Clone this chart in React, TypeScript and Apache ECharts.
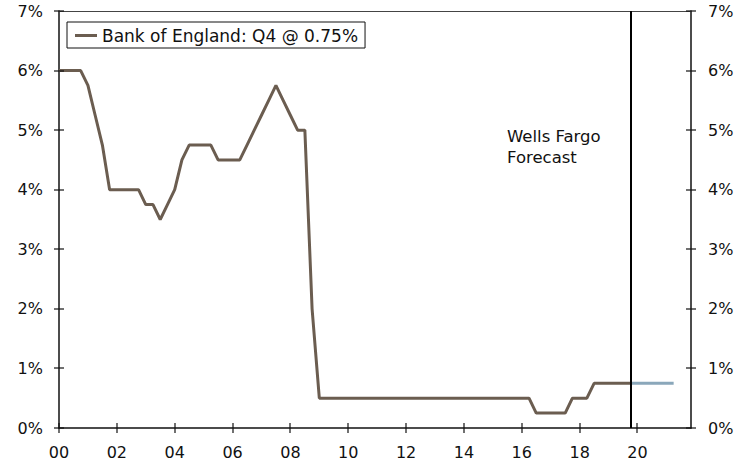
import React, { useEffect, useRef } from "react";
import * as echarts from "echarts";

// Bank Rate, quarter-end values, 2000 Q1 .. 2019 Q4 (index 0 = 2000 Q1)
const historicalRates: number[] = [
  6.0, 6.0, 6.0, 6.0, // 2000
  5.75, 5.25, 4.75, 4.0, // 2001
  4.0, 4.0, 4.0, 4.0, // 2002
  3.75, 3.75, 3.5, 3.75, // 2003
  4.0, 4.5, 4.75, 4.75, // 2004
  4.75, 4.75, 4.5, 4.5, // 2005
  4.5, 4.5, 4.75, 5.0, // 2006
  5.25, 5.5, 5.75, 5.5, // 2007
  5.25, 5.0, 5.0, 2.0, // 2008
  0.5, 0.5, 0.5, 0.5, // 2009
  0.5, 0.5, 0.5, 0.5, // 2010
  0.5, 0.5, 0.5, 0.5, // 2011
  0.5, 0.5, 0.5, 0.5, // 2012
  0.5, 0.5, 0.5, 0.5, // 2013
  0.5, 0.5, 0.5, 0.5, // 2014
  0.5, 0.5, 0.5, 0.5, // 2015
  0.5, 0.5, 0.25, 0.25, // 2016
  0.25, 0.25, 0.25, 0.5, // 2017
  0.5, 0.5, 0.75, 0.75, // 2018
  0.75, 0.75, 0.75, 0.75, // 2019
];

// Forecast path, starting at 2019 Q4 and running to 2021 Q2
const forecastStartIndex = 79;
const forecastRates: number[] = [0.75, 0.75, 0.75, 0.75, 0.75, 0.75, 0.75];

// Axis set-up (x in quarters since 2000 Q1)
const xMax = 87.4;
const yearTickIndexes: number[] = [0, 8, 16, 24, 32, 40, 48, 56, 64, 72, 80];
const rateTicks: number[] = [0, 1, 2, 3, 4, 5, 6, 7];
const yTicks = { min: 0, max: 7, interval: 1 };

const seriesName = "Bank of England: Q4 @ 0.75%";
const annotationText = "Wells Fargo\nForecast";

const FONT = "DejaVu Sans, Verdana, sans-serif";
const INK = "#111";
const BROWN = "#6b5d50";
const STEEL = "#8aa7ba";
const TICK_HALF = 5;

export default function App() {
  const ref = useRef<HTMLDivElement | null>(null);

  useEffect(() => {
    if (!ref.current) return;
    const chart = echarts.init(ref.current, undefined, { renderer: "svg" });

    const histData = historicalRates.map((v, i) => [i, v]);
    const fcData = forecastRates.map((v, i) => [forecastStartIndex + i, v]);

    // tick marks crossing the axis lines: [x, y, orientation] (0 = horizontal, 1 = vertical)
    const tickData: number[][] = [
      ...rateTicks.map((v) => [0, v, 0]),
      ...rateTicks.map((v) => [xMax, v, 0]),
      ...yearTickIndexes.map((q) => [q, 0, 1]),
    ];

    const pctLabel = (v: number) => `${v}%`;

    chart.setOption({
      animation: false,
      textStyle: { fontFamily: FONT },
      grid: { left: 59, right: 60, top: 11, bottom: 36 },
      legend: {
        data: [{ name: seriesName, icon: "rect" }],
        left: 67,
        top: 22,
        padding: [5, 7, 4, 8],
        itemWidth: 22,
        itemHeight: 3,
        borderColor: INK,
        borderWidth: 1,
        borderRadius: 0,
        selectedMode: false,
        textStyle: { fontFamily: FONT, fontSize: 17, color: INK },
      },
      xAxis: [
        {
          type: "value",
          min: 0,
          max: xMax,
          position: "bottom",
          splitLine: { show: false },
          axisLine: { show: true, onZero: false, lineStyle: { color: INK, width: 1.5 } },
          axisTick: { show: false },
          axisLabel: {
            show: true,
            margin: 16,
            fontSize: 16,
            color: INK,
            fontFamily: FONT,
            customValues: yearTickIndexes,
            formatter: (v: number) => String(Math.round(v / 4)).padStart(2, "0"),
          },
        },
        {
          // top frame line
          type: "value",
          min: 0,
          max: xMax,
          position: "top",
          splitLine: { show: false },
          axisLine: { show: true, onZero: false, lineStyle: { color: "#444", width: 1 } },
          axisTick: { show: false },
          axisLabel: { show: false },
        },
      ],
      yAxis: [
        {
          type: "value",
          ...yTicks,
          position: "left",
          splitLine: { show: false },
          axisLine: { show: true, onZero: false, lineStyle: { color: INK, width: 1.5 } },
          axisTick: { show: false },
          axisLabel: { margin: 16, fontSize: 16, color: INK, fontFamily: FONT, formatter: pctLabel },
        },
        {
          type: "value",
          ...yTicks,
          position: "right",
          splitLine: { show: false },
          axisLine: { show: true, onZero: false, lineStyle: { color: INK, width: 1.5 } },
          axisTick: { show: false },
          axisLabel: { margin: 17, fontSize: 16, color: INK, fontFamily: FONT, formatter: pctLabel },
        },
      ],
      series: [
        {
          name: seriesName,
          type: "line",
          xAxisIndex: 0,
          yAxisIndex: 0,
          data: histData,
          symbol: "none",
          lineStyle: { color: BROWN, width: 3 },
          itemStyle: { color: BROWN },
          z: 3,
        },
        {
          name: "Forecast",
          type: "line",
          xAxisIndex: 0,
          yAxisIndex: 0,
          data: fcData,
          symbol: "none",
          lineStyle: { color: STEEL, width: 3 },
          itemStyle: { color: STEEL },
          z: 3,
          markLine: {
            silent: true,
            symbol: ["none", "none"],
            label: { show: false },
            lineStyle: { color: "#000", width: 2, type: "solid" },
            data: [{ xAxis: forecastStartIndex }],
            z: 5,
          },
        },
        {
          name: "ticks",
          type: "custom",
          xAxisIndex: 0,
          yAxisIndex: 0,
          silent: true,
          clip: false,
          z: 6,
          data: tickData,
          encode: { x: 0, y: 1 },
          renderItem: (_params: any, api: any) => {
            const p = api.coord([api.value(0), api.value(1)]);
            const horizontal = api.value(2) === 0;
            const cx = Math.round(p[0]);
            const cy = Math.round(p[1]);
            const shape = horizontal
              ? { x: cx - TICK_HALF, y: cy - 0.6, width: TICK_HALF * 2, height: 1.2 }
              : { x: cx - 0.6, y: cy - TICK_HALF, width: 1.2, height: TICK_HALF * 2 };
            return {
              type: "rect",
              shape,
              style: { fill: INK },
            };
          },
        },
      ],
      graphic: [
        {
          type: "text",
          x: 507,
          y: 126,
          style: {
            text: annotationText,
            font: `16.5px ${FONT}`,
            lineHeight: 21,
            fill: INK,
          },
        },
      ],
    });

    return () => chart.dispose();
  }, []);

  return (
    <div
      ref={ref}
      style={{ position: "fixed", left: 0, top: 0, width: 751, height: 464, background: "#fff" }}
    />
  );
}
